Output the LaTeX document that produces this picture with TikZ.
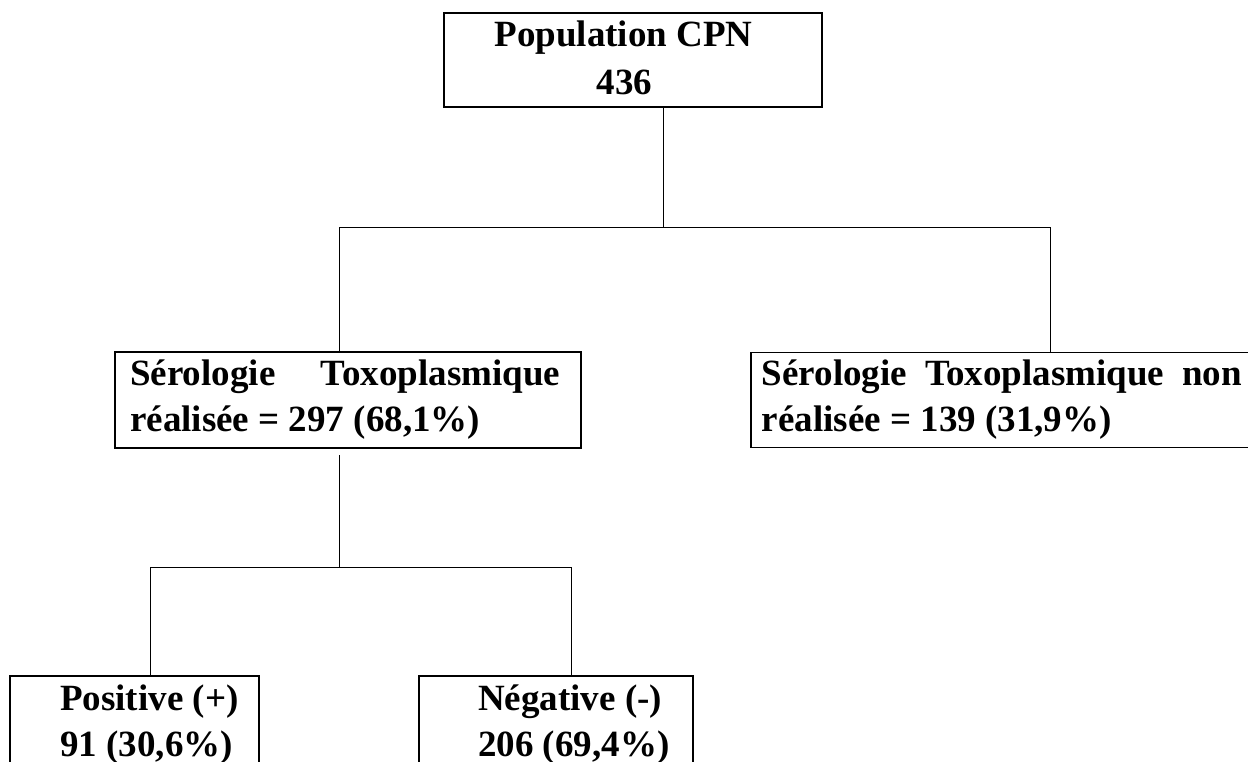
\documentclass[tikz,border=0pt]{standalone}
\usepackage{fontspec}
\setmainfont{Liberation Serif}
\begin{document}
\begin{tikzpicture}[x=1pt,y=-1pt,
  box/.style={draw, line width=1.6pt, inner sep=0pt, anchor=north west},
  conn/.style={line width=0.9pt},
  lbl/.style={font=\fontsize{37}{44}\selectfont\bfseries, inner sep=0pt}]
\useasboundingbox (0,0) rectangle (1248,762);
% boxes
\node[box, minimum width=378pt, minimum height=94pt] (top) at (443,12) {};
\node[box, minimum width=466pt, minimum height=96pt] (midL) at (114,351) {};
\node[box, minimum width=520pt, minimum height=95pt] (midR) at (750,351.5) {};
\node[box, minimum width=249pt, minimum height=120pt] (botL) at (9,675) {};
\node[box, minimum width=274pt, minimum height=120pt] (botR) at (418,675) {};
% texts
\node[lbl, anchor=base] (t1) at (623.5,46.7) {Population CPN};
\node[lbl, anchor=base] (t2) at (624.5,94.3) {436};
\node[lbl, anchor=base west] (l1) at (130,385) {\makebox[430pt][s]{Sérologie Toxoplasmique}};
\node[lbl, anchor=base west] (l2) at (130,431.7) {réalisée = 297 (68,1\%)};
\node[lbl, anchor=base west] (r1) at (761.7,385) {\makebox[480pt][s]{Sérologie Toxoplasmique non}};
\node[lbl, anchor=base west] (r2) at (761.7,431.7) {réalisée = 139 (31,9\%)};
\node[lbl, anchor=base west] (p1) at (60,710.7) {Positive (+)};
\node[lbl, anchor=base west] (p2) at (60,756.7) {91 (30,6\%)};
\node[lbl, anchor=base west] (n1) at (478,710.7) {Négative (-)};
\node[lbl, anchor=base west] (n2) at (478,756.7) {206 (69,4\%)};
% junction coordinates
\coordinate (j1) at (663,227.3);
\coordinate (j1L) at (339.3,227.3);
\coordinate (j1R) at (1050.7,227.3);
\coordinate (s2) at (339.3,455);
\coordinate (j2) at (339.3,567);
\coordinate (j2L) at (150.7,567);
\coordinate (j2R) at (571.7,567);
% connectors
\draw[conn] (top.south -| j1) -- (j1);
\draw[conn] (j1L) -- (j1R);
\draw[conn] (j1L) -- (midL.north -| j1L);
\draw[conn] (j1R) -- (midR.north -| j1R);
\draw[conn] (s2) -- (j2);
\draw[conn] (j2L) -- (j2R);
\draw[conn] (j2L) -- (botL.north -| j2L);
\draw[conn] (j2R) -- (botR.north -| j2R);
\end{tikzpicture}
\end{document}
